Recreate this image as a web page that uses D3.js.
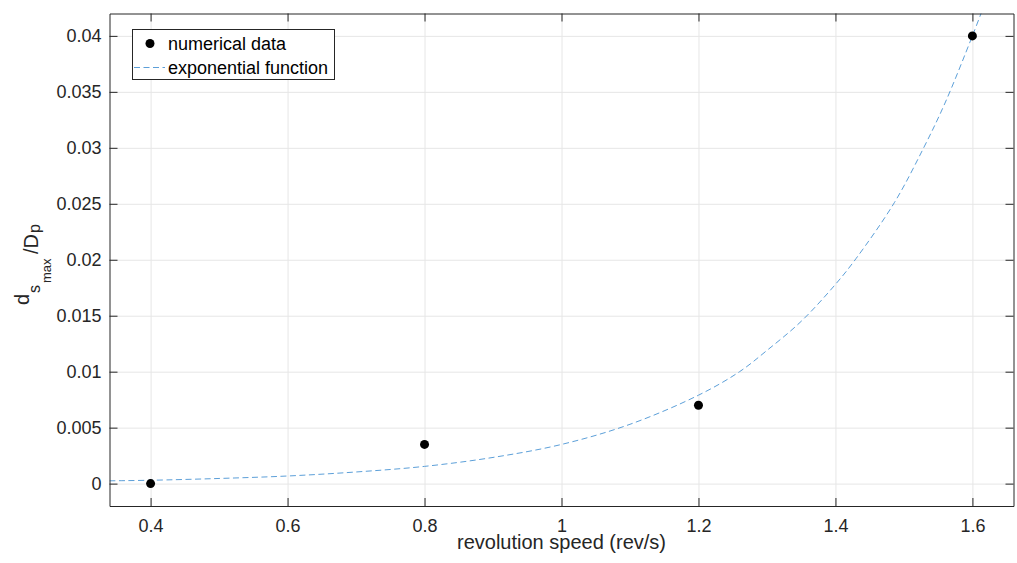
<!DOCTYPE html>
<html lang="en">
<head>
    <meta charset="UTF-8">
    <title>Maximum settling depth vs revolution speed</title>
    <script src="https://d3js.org/d3.v7.min.js"></script>
    <style>
        body {
            margin: 0;
            background-color: #fff;
            font-family: Arial, "Liberation Sans", sans-serif;
        }

        .tick text {
            font-size: 18px;
            fill: #262626;
        }

        .axis-label {
            font-size: 20px;
            fill: #262626;
        }

        .legend text {
            font-size: 18px;
            fill: #000;
        }
    </style>
</head>
<body>
    <svg id="chart" width="1017" height="563"></svg>
    <script>
        // numerical data points
        const revSpeed = [0.4, 0.8, 1.2, 1.6];
        const dsMax = [0, 0.0035, 0.007, 0.04];

        // exponential fit
        const fitSpeed = [0.34, 0.4, 0.5, 0.6, 0.7, 0.8, 0.9, 1.0, 1.1, 1.2, 1.26, 1.3, 1.35, 1.4, 1.43, 1.486, 1.528, 1.56, 1.6, 1.62];
        const fitValue = [0.00025, 0.0003, 0.00046, 0.00068, 0.00104, 0.00154, 0.00234, 0.0035, 0.0053, 0.0079, 0.0100, 0.0119, 0.0145, 0.0178, 0.0201, 0.0251, 0.0299, 0.0340, 0.0400, 0.0432];

        // tick values
        const xTicks = [0.4, 0.6, 0.8, 1, 1.2, 1.4, 1.6];
        const yTicks = [0, 0.005, 0.01, 0.015, 0.02, 0.025, 0.03, 0.035, 0.04];

        const margin = { left: 109.5, right: 1013.5, top: 13.5, bottom: 506 };
        const width = margin.right - margin.left, height = margin.bottom - margin.top;
        const axisColor = "#262626";

        const svg = d3.select("#chart");
        const g = svg.append("g").attr("transform", `translate(${margin.left},${margin.top})`);

        const x = d3.scaleLinear().domain([0.34, 1.66]).range([0, width]);
        const y = d3.scaleLinear().domain([-0.002, 0.042]).range([height, 0]);
        const fmt = d3.format("~g");

        // grid lines
        g.append("g")
            .attr("transform", `translate(0,${height})`)
            .call(d3.axisBottom(x).tickValues(xTicks).tickSize(-height).tickFormat(""))
            .call(a => a.select(".domain").remove())
            .call(a => a.selectAll("line").attr("stroke", "#e6e6e6"));
        g.append("g")
            .call(d3.axisLeft(y).tickValues(yTicks).tickSize(-width).tickFormat(""))
            .call(a => a.select(".domain").remove())
            .call(a => a.selectAll("line").attr("stroke", "#e6e6e6"));

        // fitted curve, clipped to the axes box
        svg.append("clipPath").attr("id", "clip")
            .append("rect").attr("width", width).attr("height", height);

        const fitData = fitSpeed.map((s, i) => [s, fitValue[i]]);
        g.append("path")
            .datum(fitData)
            .attr("clip-path", "url(#clip)")
            .attr("fill", "none")
            .attr("stroke", "#4a94d4")
            .attr("stroke-width", 0.9)
            .attr("stroke-dasharray", "6,3.5")
            .attr("d", d3.line().x(d => x(d[0])).y(d => y(d[1])).curve(d3.curveCatmullRom));

        // data points
        g.selectAll(".dot")
            .data(revSpeed)
            .enter()
            .append("circle")
            .attr("class", "dot")
            .attr("cx", d => x(d))
            .attr("cy", (d, i) => y(dsMax[i]))
            .attr("r", 4.5)
            .attr("fill", "#000");

        // axes with inward ticks on all four sides
        const styleAxis = a => {
            a.select(".domain").attr("stroke", axisColor);
            a.selectAll(".tick line").attr("stroke", axisColor);
        };
        g.append("g")
            .attr("transform", `translate(0,${height})`)
            .call(d3.axisBottom(x).tickValues(xTicks).tickSizeInner(-8).tickSizeOuter(0).tickPadding(13).tickFormat(fmt))
            .call(styleAxis);
        g.append("g")
            .call(d3.axisTop(x).tickValues(xTicks).tickSizeInner(-8).tickSizeOuter(0).tickFormat(""))
            .call(styleAxis);
        g.append("g")
            .call(d3.axisLeft(y).tickValues(yTicks).tickSizeInner(-8).tickSizeOuter(0).tickPadding(8).tickFormat(fmt))
            .call(styleAxis);
        g.append("g")
            .attr("transform", `translate(${width},0)`)
            .call(d3.axisRight(y).tickValues(yTicks).tickSizeInner(-8).tickSizeOuter(0).tickFormat(""))
            .call(styleAxis);
        g.selectAll("g").attr("font-size", null).attr("font-family", null);

        // x-axis label
        svg.append("text")
            .attr("class", "axis-label")
            .attr("x", margin.left + width / 2)
            .attr("y", 549)
            .style("text-anchor", "middle")
            .text("revolution speed (rev/s)");

        // y-axis label: d_{s_{max}}/D_p
        const yl = svg.append("text")
            .attr("class", "axis-label")
            .attr("transform", "rotate(-90)");
        yl.append("tspan").attr("x", -305).attr("y", 29).text("d");
        yl.append("tspan").attr("x", -293).attr("y", 40).style("font-size", "16px").text("s");
        yl.append("tspan").attr("x", -283).attr("y", 51).style("font-size", "13px").text("max");
        yl.append("tspan").attr("x", -254).attr("y", 38).text("/D");
        yl.append("tspan").attr("x", -233).attr("y", 40).style("font-size", "16px").text("p");

        // legend
        const legend = svg.append("g").attr("class", "legend");
        legend.append("rect")
            .attr("x", 132.5).attr("y", 29.5)
            .attr("width", 202).attr("height", 50)
            .attr("fill", "#fff")
            .attr("stroke", axisColor)
            .attr("stroke-width", 1);
        legend.append("circle").attr("cx", 150).attr("cy", 43.5).attr("r", 4.5).attr("fill", "#000");
        legend.append("text").attr("x", 168).attr("y", 50).text("numerical data");
        legend.append("line")
            .attr("x1", 134).attr("x2", 165).attr("y1", 67.5).attr("y2", 67.5)
            .attr("stroke", "#4a94d4").attr("stroke-width", 0.9).attr("stroke-dasharray", "6,3.5");
        legend.append("text").attr("x", 168).attr("y", 74).text("exponential function");
    </script>
</body>
</html>
